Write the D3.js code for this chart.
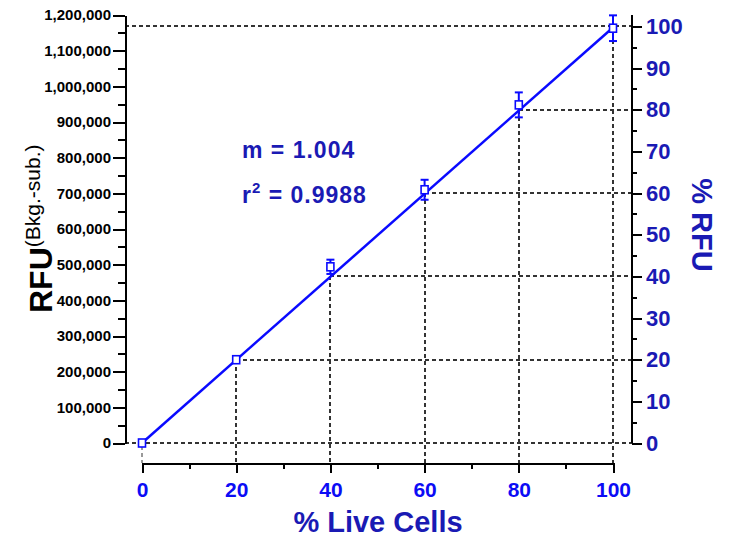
<!DOCTYPE html>
<html>
<head>
<meta charset="utf-8">
<script src="https://cdn.jsdelivr.net/npm/d3@7"></script>
<style>
  html, body { margin: 0; padding: 0; background: #fff; }
  svg { display: block; font-family: "Liberation Sans", Arial, Helvetica, sans-serif; }
</style>
</head>
<body>
<svg id="chart" width="730" height="539"></svg>
<script>
// ---- data ----
const liveCells = [0, 20, 40, 60, 80, 100];
const rfuMean   = [0, 233500, 494000, 710000, 948000, 1163000];
const rfuErr    = [2000, 4000, 20000, 28000, 35000, 36000];
const fitX = [0, 100];
const fitY = [0, 1165000];
const gridPct = [20, 40, 60, 80, 100];
const fullScaleRFU = 1168000;           // RFU equal to 100 % RFU
const leftTicks  = d3.range(0, 1200001, 100000);
const leftMinor  = d3.range(50000, 1200000, 100000);
const rightTicks = d3.range(0, 101, 10);
const rightMinor = d3.range(5, 100, 10);
const xTicks = [0, 20, 40, 60, 80, 100];
const xMinor = [10, 30, 50, 70, 90];
const slopeText = "m = 1.004";
const r2Value = "0.9988";

// ---- colours ----
const darkBlue = "#1a1ab4";
const brightBlue = "#0c0cf5";
const lineBlue = "#0a0aff";
const gridCol = "#333";

const svg = d3.select("#chart");

const x  = d3.scaleLinear().domain([0, 100]).range([142, 613]);
const yL = d3.scaleLinear().domain([0, 1200000]).range([443, 15]);
const yR = d3.scaleLinear().domain([0, 100]).range([yL(0), yL(fullScaleRFU)]);
const xAxisY = 463;
const leftX = 125;
const rightX = 632;
const R = Math.round;

// ---- dashed guide lines ----
const g = svg.append("g").attr("fill", "none").attr("stroke", gridCol)
  .attr("stroke-width", 2).attr("stroke-dasharray", "4,3").attr("shape-rendering", "crispEdges");
g.append("line").attr("x1", leftX).attr("x2", rightX).attr("y1", R(yR(0))).attr("y2", R(yR(0)));
g.append("line").attr("x1", leftX).attr("x2", rightX).attr("y1", R(yR(100))).attr("y2", R(yR(100)));
gridPct.forEach(p => {
  if (p !== 100) {
    g.append("line").attr("x1", R(x(p))).attr("x2", rightX).attr("y1", R(yR(p))).attr("y2", R(yR(p)));
  }
  g.append("line").attr("x1", R(x(p))).attr("x2", R(x(p))).attr("y1", R(yR(p))).attr("y2", xAxisY);
});
svg.append("line").attr("x1", x(0)).attr("x2", x(0)).attr("y1", yR(0) + 3).attr("y2", xAxisY)
  .attr("stroke", "#999").attr("stroke-width", 2).attr("stroke-dasharray", "4,3")
  .attr("shape-rendering", "crispEdges");

// ---- axes ----
function styleAxis(sel) {
  sel.selectAll("path, line").attr("stroke", "#000").attr("stroke-width", 2)
    .attr("shape-rendering", "crispEdges");
}
// left
const gl = svg.append("g").attr("transform", `translate(${leftX},0)`)
  .call(d3.axisLeft(yL).tickValues(leftTicks).tickSize(12).tickSizeOuter(0).tickPadding(2)
    .tickFormat(d3.format(",")));
styleAxis(gl);
gl.selectAll("text").attr("font-size", 15).attr("font-weight", "bold").attr("fill", "#000")
  .attr("font-family", "'Liberation Sans', Arial, sans-serif");
const glm = svg.append("g").attr("transform", `translate(${leftX},0)`)
  .call(d3.axisLeft(yL).tickValues(leftMinor).tickSize(7).tickFormat(""));
glm.select(".domain").remove();
styleAxis(glm);

// right
const gr = svg.append("g").attr("transform", `translate(${rightX},0)`)
  .call(d3.axisRight(yR).tickValues(rightTicks).tickSize(10).tickPadding(4));
gr.select(".domain").remove();
styleAxis(gr);
gr.selectAll("text").attr("font-size", 22).attr("font-weight", "bold").attr("fill", darkBlue)
  .attr("font-family", "'Liberation Sans', Arial, sans-serif");
const grm = svg.append("g").attr("transform", `translate(${rightX},0)`)
  .call(d3.axisRight(yR).tickValues(rightMinor).tickSize(5).tickFormat(""));
grm.select(".domain").remove();
styleAxis(grm);
svg.append("line").attr("x1", rightX).attr("x2", rightX).attr("y1", yL(0)).attr("y2", yL(1200000))
  .attr("stroke", "#000").attr("stroke-width", 2).attr("shape-rendering", "crispEdges");

// bottom
const gb = svg.append("g").attr("transform", `translate(0,${xAxisY})`)
  .call(d3.axisBottom(x).tickValues(xTicks).tickSize(10).tickSizeOuter(0).tickPadding(9));
styleAxis(gb);
gb.selectAll("text").attr("font-size", 21).attr("font-weight", "bold").attr("fill", brightBlue)
  .attr("font-family", "'Liberation Sans', Arial, sans-serif");
const gbm = svg.append("g").attr("transform", `translate(0,${xAxisY})`)
  .call(d3.axisBottom(x).tickValues(xMinor).tickSize(6).tickFormat(""));
gbm.select(".domain").remove();
styleAxis(gbm);

// ---- fit line ----
const fitData = fitX.map((v, i) => [v, fitY[i]]);
svg.append("path").datum(fitData)
  .attr("d", d3.line().x(d => x(d[0])).y(d => yL(d[1])))
  .attr("fill", "none").attr("stroke", lineBlue).attr("stroke-width", 2.5);

// ---- error bars and markers ----
const pts = liveCells.map((v, i) => ({ x: v, y: rfuMean[i], e: rfuErr[i] }));
const eb = svg.append("g").attr("stroke", lineBlue).attr("stroke-width", 2);
pts.forEach(d => {
  const cx = x(d.x), t = yL(d.y + d.e), b = yL(d.y - d.e);
  if (b - t > 8) {
    eb.append("line").attr("x1", cx).attr("x2", cx).attr("y1", t).attr("y2", b);
    eb.append("line").attr("x1", cx - 4).attr("x2", cx + 4).attr("y1", t).attr("y2", t);
    eb.append("line").attr("x1", cx - 4).attr("x2", cx + 4).attr("y1", b).attr("y2", b);
  }
});
svg.append("g").selectAll("rect").data(pts).join("rect")
  .attr("x", d => x(d.x) - 3.5).attr("y", d => yL(d.y) - 4)
  .attr("width", 7).attr("height", 8)
  .attr("fill", "#fff").attr("stroke", lineBlue).attr("stroke-width", 1.6);

// ---- annotation ----
svg.append("text").attr("x", 242).attr("y", 158).attr("font-size", 23).attr("font-weight", "bold")
  .attr("letter-spacing", 1).attr("fill", darkBlue).text(slopeText);
const r2 = svg.append("text").attr("x", 242).attr("y", 203).attr("font-size", 23).attr("font-weight", "bold")
  .attr("letter-spacing", 1).attr("fill", darkBlue);
r2.append("tspan").text("r");
r2.append("tspan").attr("font-size", 15).attr("dy", -10).text("2");
r2.append("tspan").attr("dy", 10).text(" = " + r2Value);

// ---- axis titles ----
svg.append("text").attr("x", 378).attr("y", 532).attr("text-anchor", "middle")
  .attr("font-size", 29).attr("font-weight", "bold").attr("fill", darkBlue).text("% Live Cells");

const lt = svg.append("text").attr("transform", "translate(52,313) rotate(-90)")
  .attr("font-size", 32).attr("font-weight", "bold").attr("fill", "#000");
lt.append("tspan").text("RFU");
lt.append("tspan").attr("dy", -12).attr("font-size", 21).attr("font-weight", "normal").text("(Bkg.-sub.)");

svg.append("text").attr("transform", "translate(692,225) rotate(90)").attr("text-anchor", "middle")
  .attr("font-size", 29).attr("font-weight", "bold").attr("fill", darkBlue).text("% RFU");
</script>
</body>
</html>
